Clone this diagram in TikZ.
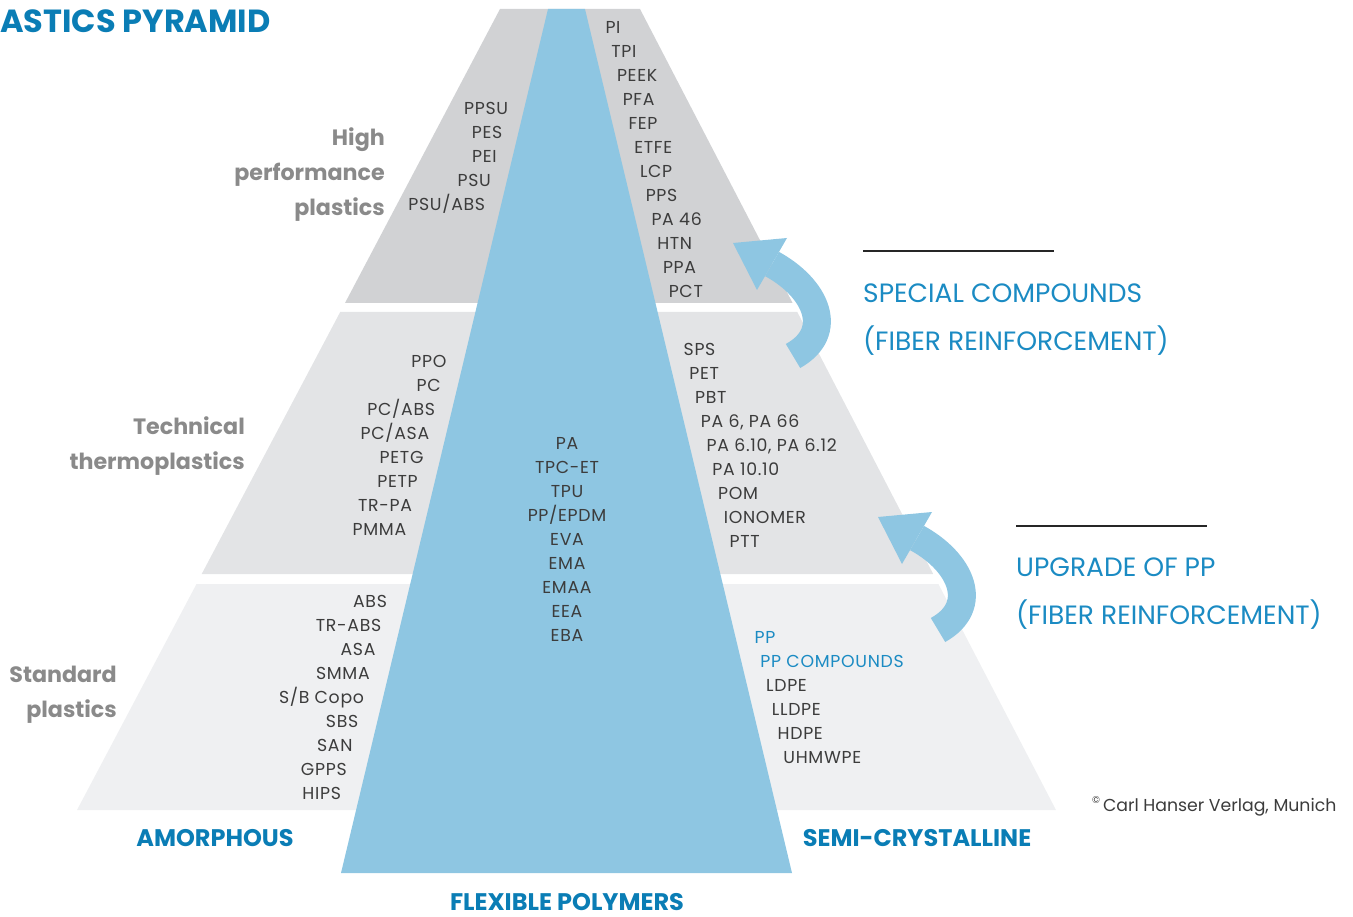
\documentclass[tikz,border=0pt]{standalone}
\usepackage{fontspec}
\setmainfont{Poppins}
\newfontfamily\lstfont[LetterSpace=4]{Poppins}
\definecolor{tierA}{HTML}{D1D2D4}
\definecolor{tierB}{HTML}{E3E4E6}
\definecolor{tierC}{HTML}{EFF0F2}
\definecolor{flexblue}{HTML}{8EC6E2}
\definecolor{titleblue}{HTML}{0A7DB5}
\definecolor{lightblue}{HTML}{1B8BC3}
\definecolor{txt}{HTML}{3C3C3C}
\definecolor{lab}{HTML}{8A8A8A}
\tikzset{
  lst/.style={inner sep=0pt, text height=12.1pt, text depth=0pt, text=txt, font=\lstfont\fontsize{17.3}{19}\selectfont},
  tierlab/.style={inner sep=0pt, text height=15.5pt, text depth=0pt, text=lab, anchor=east, font=\fontsize{22.2}{26}\selectfont\bfseries},
  catlab/.style={inner sep=0pt, text height=16.8pt, text depth=0pt, text=titleblue, font=\fontsize{24}{26}\selectfont\bfseries},
  sidelab/.style={inner sep=0pt, text height=18.5pt, text depth=0pt, text=lightblue, anchor=west, font=\fontsize{26.5}{28}\selectfont}
}
\begin{document}
\begin{tikzpicture}[x=1pt,y=-1pt]
\useasboundingbox (0,0) rectangle (1353,917);
% tiers
\fill[tierA] (500,9) -- (640,9) -- (792.6,303) -- (345,303) -- cycle;
\fill[tierB] (340.2,312) -- (797.3,312) -- (933.2,574) -- (201.7,574) -- cycle;
\fill[tierC] (196.5,584) -- (938.4,584) -- (1056,810) -- (77,810) -- cycle;
% flexible polymers
\fill[flexblue] (548,9) -- (585,9) -- (792,873) -- (341,873) -- cycle;
% arrows
\foreach \sx/\sy in {0/0,145/274}{
\begin{scope}[shift={(\sx,\sy)}]
\draw[flexblue, line width=28pt] (772,264) .. controls (816,288) and (836,332) .. (793,356);
\fill[flexblue] (733,243) -- (787,238) -- (757,290) -- cycle;
\end{scope}
}
% title
\node[catlab, anchor=west, text height=22.4pt, font=\fontsize{32}{34}\selectfont\bfseries] (title) at (0,21) {ASTICS PYRAMID};
% tier labels
\node[tierlab] (hp1) at (385,138) {High};
\node[tierlab] (hp2) at (385,173) {performance};
\node[tierlab] (hp3) at (385,208) {plastics};
\node[tierlab] (tt1) at (245,427) {Technical};
\node[tierlab] (tt2) at (245,462) {thermoplastics};
\node[tierlab] (sp1) at (117,675) {Standard};
\node[tierlab] (sp2) at (117,710) {plastics};
% lists
\foreach \t [count=\i from 0] in {PPSU,PES,PEI,PSU,PSU/ABS}{
  \pgfmathsetmacro\yy{108+24*\i}
  \node[lst, anchor=east] (tl\i) at ({548-0.2396*(\yy-9)-16},\yy) {\t};}
\foreach \t [count=\i from 0] in {PI,TPI,PEEK,PFA,FEP,ETFE,LCP,PPS,PA 46,HTN,PPA,PCT}{
  \pgfmathsetmacro\yy{27+24*\i}
  \node[lst, anchor=west] (tr\i) at ({585+0.2396*(\yy-9)+16},\yy) {\t};}
\foreach \t [count=\i from 0] in {PPO,PC,PC/ABS,PC/ASA,PETG,PETP,TR-PA,PMMA}{
  \pgfmathsetmacro\yy{361+24*\i}
  \node[lst, anchor=east] (ml\i) at ({548-0.2396*(\yy-9)-17},\yy) {\t};}
\foreach \t [count=\i from 0] in {SPS,PET,PBT,{PA 6, PA 66},{PA 6.10, PA 6.12},PA 10.10,POM,IONOMER,PTT}{
  \pgfmathsetmacro\yy{349+24*\i}
  \node[lst, anchor=west] (mr\i) at ({585+0.2396*(\yy-9)+17},\yy) {\t};}
\foreach \t [count=\i from 0] in {PA,TPC-ET,TPU,PP/EPDM,EVA,EMA,EMAA,EEA,EBA}{
  \pgfmathsetmacro\yy{443+24*\i}
  \node[lst] (mc\i) at (567,\yy) {\t};}
\foreach \t [count=\i from 0] in {ABS,TR-ABS,ASA,SMMA,S/B Copo,SBS,SAN,GPPS,HIPS}{
  \pgfmathsetmacro\yy{601+24*\i}
  \node[lst, anchor=east] (bl\i) at ({548-0.2396*(\yy-9)-19},\yy) {\t};}
\foreach \t [count=\i from 0] in {LDPE,LLDPE,HDPE,UHMWPE}{
  \pgfmathsetmacro\yy{685+24*\i}
  \node[lst, anchor=west] (br\i) at ({585+0.2396*(\yy-9)+19},\yy) {\t};}
\node[lst, anchor=west, text=lightblue] (pp) at ({585+0.2396*(637-9)+19},637) {PP};
\node[lst, anchor=west, text=lightblue] (ppc) at ({585+0.2396*(661-9)+19},661) {PP COMPOUNDS};
% category labels
\node[catlab] (amor) at (215,838) {AMORPHOUS};
\node[catlab] (semi) at (917,838) {SEMI-CRYSTALLINE};
\node[catlab] (flex) at (567,902) {FLEXIBLE POLYMERS};
% side labels
\draw[line width=2.5pt, black!85] (863,251) -- (1054,251);
\node[sidelab] (sc1) at (863,293) {SPECIAL COMPOUNDS};
\node[sidelab] (sc2) at (863,341) {(FIBER REINFORCEMENT)};
\draw[line width=2.5pt, black!85] (1016,526) -- (1207,526);
\node[sidelab] (up1) at (1016,567) {UPGRADE OF PP};
\node[sidelab] (up2) at (1016,615) {(FIBER REINFORCEMENT)};
% copyright
\node[inner sep=0pt, anchor=west, text height=12pt, text depth=0pt, text=txt, font=\fontsize{17.3}{19}\selectfont] (copy) at (1092,805) {\raisebox{0.45em}{\fontsize{10}{10}\selectfont ©}\,Carl Hanser Verlag, Munich};
\end{tikzpicture}
\end{document}
